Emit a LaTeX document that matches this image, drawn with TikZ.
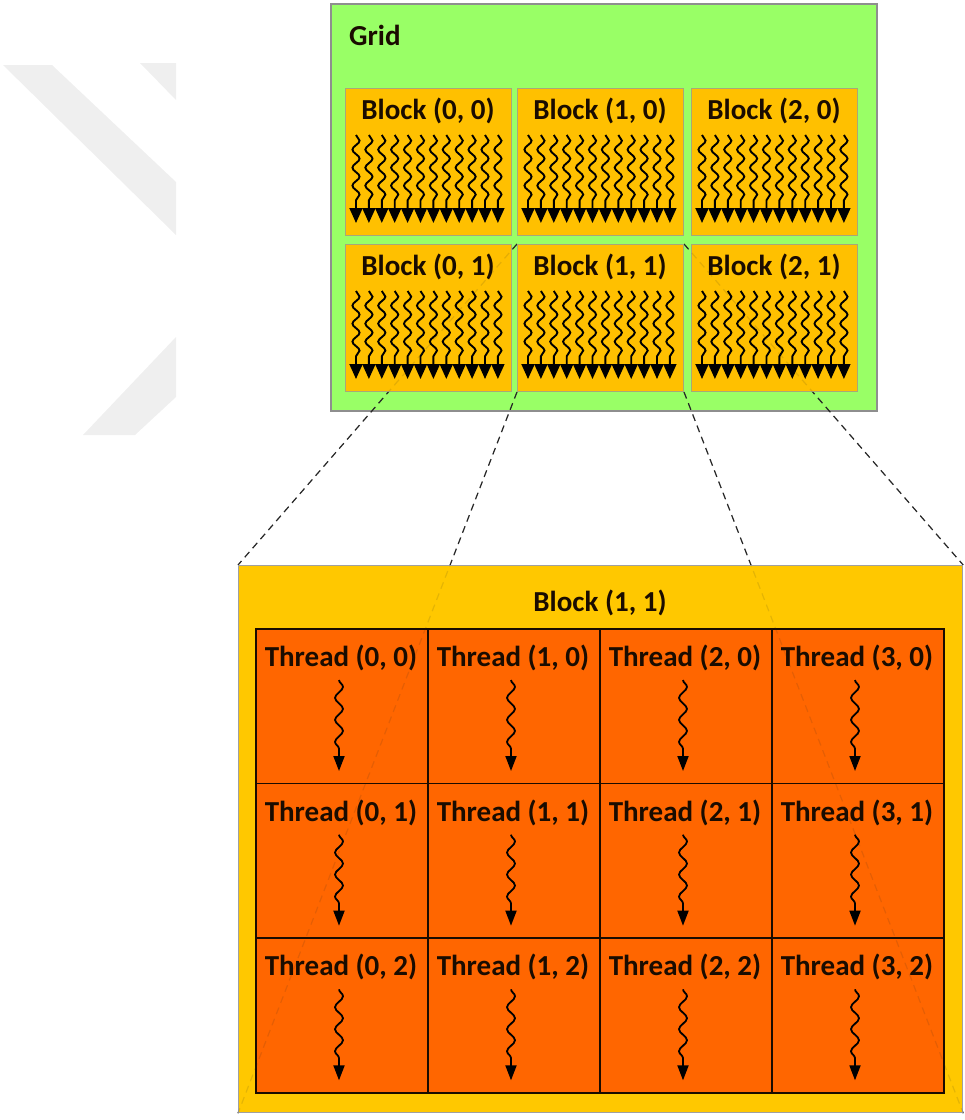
\documentclass[tikz,border=0pt]{standalone}
\usepackage{fontspec}
\setmainfont{Carlito}
\usetikzlibrary{decorations.pathmorphing,arrows.meta}
\definecolor{gridgreen}{HTML}{99FF66}
\definecolor{gridborder}{HTML}{8E8E8E}
\definecolor{blockgold}{HTML}{FFC000}
\definecolor{blockborder}{HTML}{A8A878}
\definecolor{bigblock}{HTML}{FFC800}
\definecolor{bigborder}{HTML}{A0A0A0}
\definecolor{threadorange}{HTML}{FF6600}
\definecolor{wmgray}{HTML}{EFEFEF}
\definecolor{ink}{HTML}{1A0C00}
\pgfdeclarelayer{bg}
\pgfdeclarelayer{lines}
\pgfsetlayers{bg,lines,main}
\tikzset{
  lbl/.style={font=\bfseries\fontsize{29}{31}\selectfont, text=ink, inner sep=0pt},
  gridbox/.style={draw=gridborder, line width=1.5pt, fill=gridgreen, anchor=north west, minimum width=546pt, minimum height=407pt, inner sep=0pt},
  blk/.style={draw=blockborder, line width=1pt, fill=blockgold, anchor=north west, minimum width=166pt, minimum height=147pt, inner sep=0pt},
  bigblk/.style={draw=bigborder, line width=1.2pt, fill=bigblock, anchor=north west, minimum width=724pt, minimum height=547pt, inner sep=0pt},
  cell/.style={draw=ink, line width=1.6pt, fill=threadorange, anchor=north west, minimum width=172pt, minimum height=154.67pt, inner sep=0pt},
  minithr/.style={line width=1.9pt, draw=black, decorate, decoration={snake, amplitude=3.6pt, segment length=18pt, post length=15pt}, -{Triangle[width=13pt,length=15pt]}},
  thr/.style={line width=1.8pt, draw=black, decorate, decoration={snake, amplitude=4pt, segment length=22pt, post length=14pt}, -{Triangle[width=11pt,length=15pt]}},
  link/.style={line width=1.2pt, dash pattern=on 7pt off 5pt, draw=black!85},
  faintlink/.style={link, draw opacity=0.12}
}
\begin{document}
\begin{tikzpicture}[x=1pt,y=-1pt]
\useasboundingbox (0,0) rectangle (965,1120);
% watermark
\fill[wmgray] (3,65) -- (52,65) -- (176,182) -- (176,235) -- cycle;
\fill[wmgray] (140,63) -- (176,63) -- (176,100) -- cycle;
\fill[wmgray] (176,337) -- (176,397) -- (135,435) -- (83,435) -- cycle;
% grid
\begin{pgfonlayer}{bg}
\node[gridbox] (grid) at (330,3) {};
\end{pgfonlayer}
\node[lbl, anchor=west] (gridlbl) at (349,35) {Grid};
% blocks
\foreach \c/\r/\x/\y in {0/0/345/88, 1/0/517/88, 2/0/691/88, 0/1/345/244, 1/1/517/244, 2/1/691/244} {
  \node[blk] (b\c\r) at (\x,\y) {};
  \node[lbl] (bl\c\r) at (\x+83,\y+23) {Block (\c, \r)};
  \foreach \i in {0,...,11} {
    \draw[minithr] (\x+11+\i*12.9,\y+47) -- (\x+11+\i*12.9,\y+135);
  }
}
% big block
\node[bigblk] (big) at (238,565) {};
\node[lbl] (bigl) at (600,603) {Block (1, 1)};
\foreach \c in {0,1,2,3} {
  \foreach \r in {0,1,2} {
    \node[cell] (t\c\r) at (255+\c*172, 628+\r*154.67) {};
    \node[lbl] (tl\c\r) at (255+\c*172+86, 628+\r*154.67+30) {Thread (\c, \r)};
    \draw[thr] (255+\c*172+84, 628+\r*154.67+52) -- (255+\c*172+84, 628+\r*154.67+143);
  }
}
% zoom links
\begin{pgfonlayer}{lines}
\draw[link] (b11.north west) -- (big.north west);
\draw[link] (b11.north east) -- (big.north east);
\draw[link] (b11.south west) -- (big.south west);
\draw[link] (b11.south east) -- (big.south east);
\end{pgfonlayer}
\draw[faintlink] (b11.north west) -- (big.north west);
\draw[faintlink] (b11.north east) -- (big.north east);
\draw[faintlink] (b11.south west) -- (big.south west);
\draw[faintlink] (b11.south east) -- (big.south east);
\end{tikzpicture}
\end{document}
